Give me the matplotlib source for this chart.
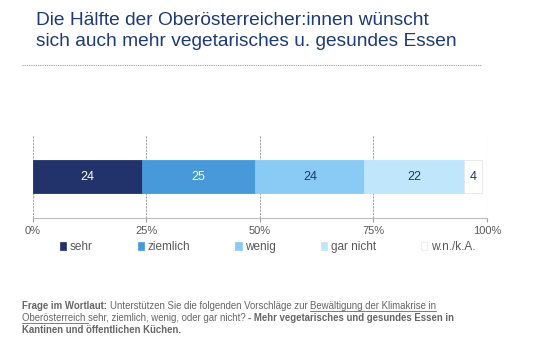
import matplotlib.pyplot as plt
from matplotlib.patches import Patch

plt.rcParams["font.family"] = ["Liberation Sans", "DejaVu Sans"]

# survey answers, percent
categories = ["sehr", "ziemlich", "wenig", "gar nicht", "w.n./k.A."]
values = [24, 25, 24, 22, 4]
colors = ["#22336B", "#4799DA", "#8ACBF5", "#BFE6FB", "#FFFFFF"]
label_colors = ["white", "white", "#22336B", "#22336B", "#22336B"]
xticks = [0, 25, 50, 75, 100]
xticklabels = ["0%", "25%", "50%", "75%", "100%"]

title_lines = "Die Hälfte der Oberösterreicher:innen wünscht\nsich auch mehr vegetarisches u. gesundes Essen"

# footnote pieces: (text, style)
footer = [
    [("Frage im Wortlaut: ", "bold"),
     ("Unterstützen Sie die folgenden Vorschläge zur ", "normal"),
     ("Bewältigung der Klimakrise in", "underline")],
    [("Oberösterreich ", "underline"),
     ("sehr, ziemlich, wenig, oder gar nicht? ", "normal"),
     ("- Mehr vegetarisches und gesundes Essen in", "bold")],
    [("Kantinen und öffentlichen Küchen.", "bold")],
]

W, H = 545, 345
fig = plt.figure(figsize=(W / 100, H / 100), dpi=100)
fig.patch.set_facecolor("white")

fig.text(36 / W, 1 - 12 / H, title_lines, ha="left", va="top", fontsize=13.8,
         color="#1F3A7A", linespacing=1.32)
fig.add_artist(plt.Line2D([22 / W, 482 / W], [1 - 65 / H] * 2, color="#9A9A9A",
                          lw=0.8, ls=(0, (1, 1)), transform=fig.transFigure))

ax = fig.add_axes([32.7 / W, 1 - 218 / H, (487 - 32.7) / W, 83 / H])
left = 0
for val, col, lc in zip(values, colors, label_colors):
    ax.barh(0.5, val, left=left, height=0.40, color=col,
            edgecolor="#E6E6E6" if col == "#FFFFFF" else col, lw=0.6, zorder=3)
    ax.text(left + val / 2, 0.5, str(val), ha="center", va="center",
            fontsize=9, color=lc, zorder=4)
    left += val

ax.set_xlim(0, 100)
ax.set_ylim(0, 1)
ax.set_yticks([])
ax.set_xticks(xticks)
ax.set_xticklabels(xticklabels, fontsize=8, color="#595959")
ax.tick_params(axis="x", length=3, color="#A0A0A0", pad=3)
for s in ["top", "right", "left"]:
    ax.spines[s].set_visible(False)
ax.spines["bottom"].set_color("#BDBDBD")
ax.spines["bottom"].set_linewidth(0.8)
ax.grid(axis="x", color="#A6A6A6", ls=(0, (2, 1)), lw=0.8, zorder=0)
ax.set_facecolor("none")

handles = [Patch(facecolor=c, edgecolor="#E6E6E6" if c == "#FFFFFF" else c, lw=0.5)
           for c in colors]
fig.legend(handles, categories, loc="center left", bbox_to_anchor=(60 / W, 1 - 247 / H),
           ncol=5, frameon=False, fontsize=8.5, handlelength=0.55, handleheight=0.75,
           handletextpad=0.3, columnspacing=3.8, borderaxespad=0, borderpad=0,
           labelcolor="#595959")

# footnote with mixed styles, laid out piece by piece
fig.canvas.draw()
renderer = fig.canvas.get_renderer()
y = 1 - 309 / H
for line in footer:
    x = 22 / W
    for text, style in line:
        t = fig.text(x, y, text, ha="left", va="baseline", fontsize=6.9, color="#666666",
                     fontweight="bold" if style == "bold" else "normal")
        bb = t.get_window_extent(renderer)
        if style == "underline":
            fig.add_artist(plt.Line2D([x, x + bb.width / W], [y - 2 / H] * 2,
                                      color="#666666", lw=0.6, transform=fig.transFigure))
        x += bb.width / W
    y -= 12 / H

fig.savefig("out.png", dpi=100)
